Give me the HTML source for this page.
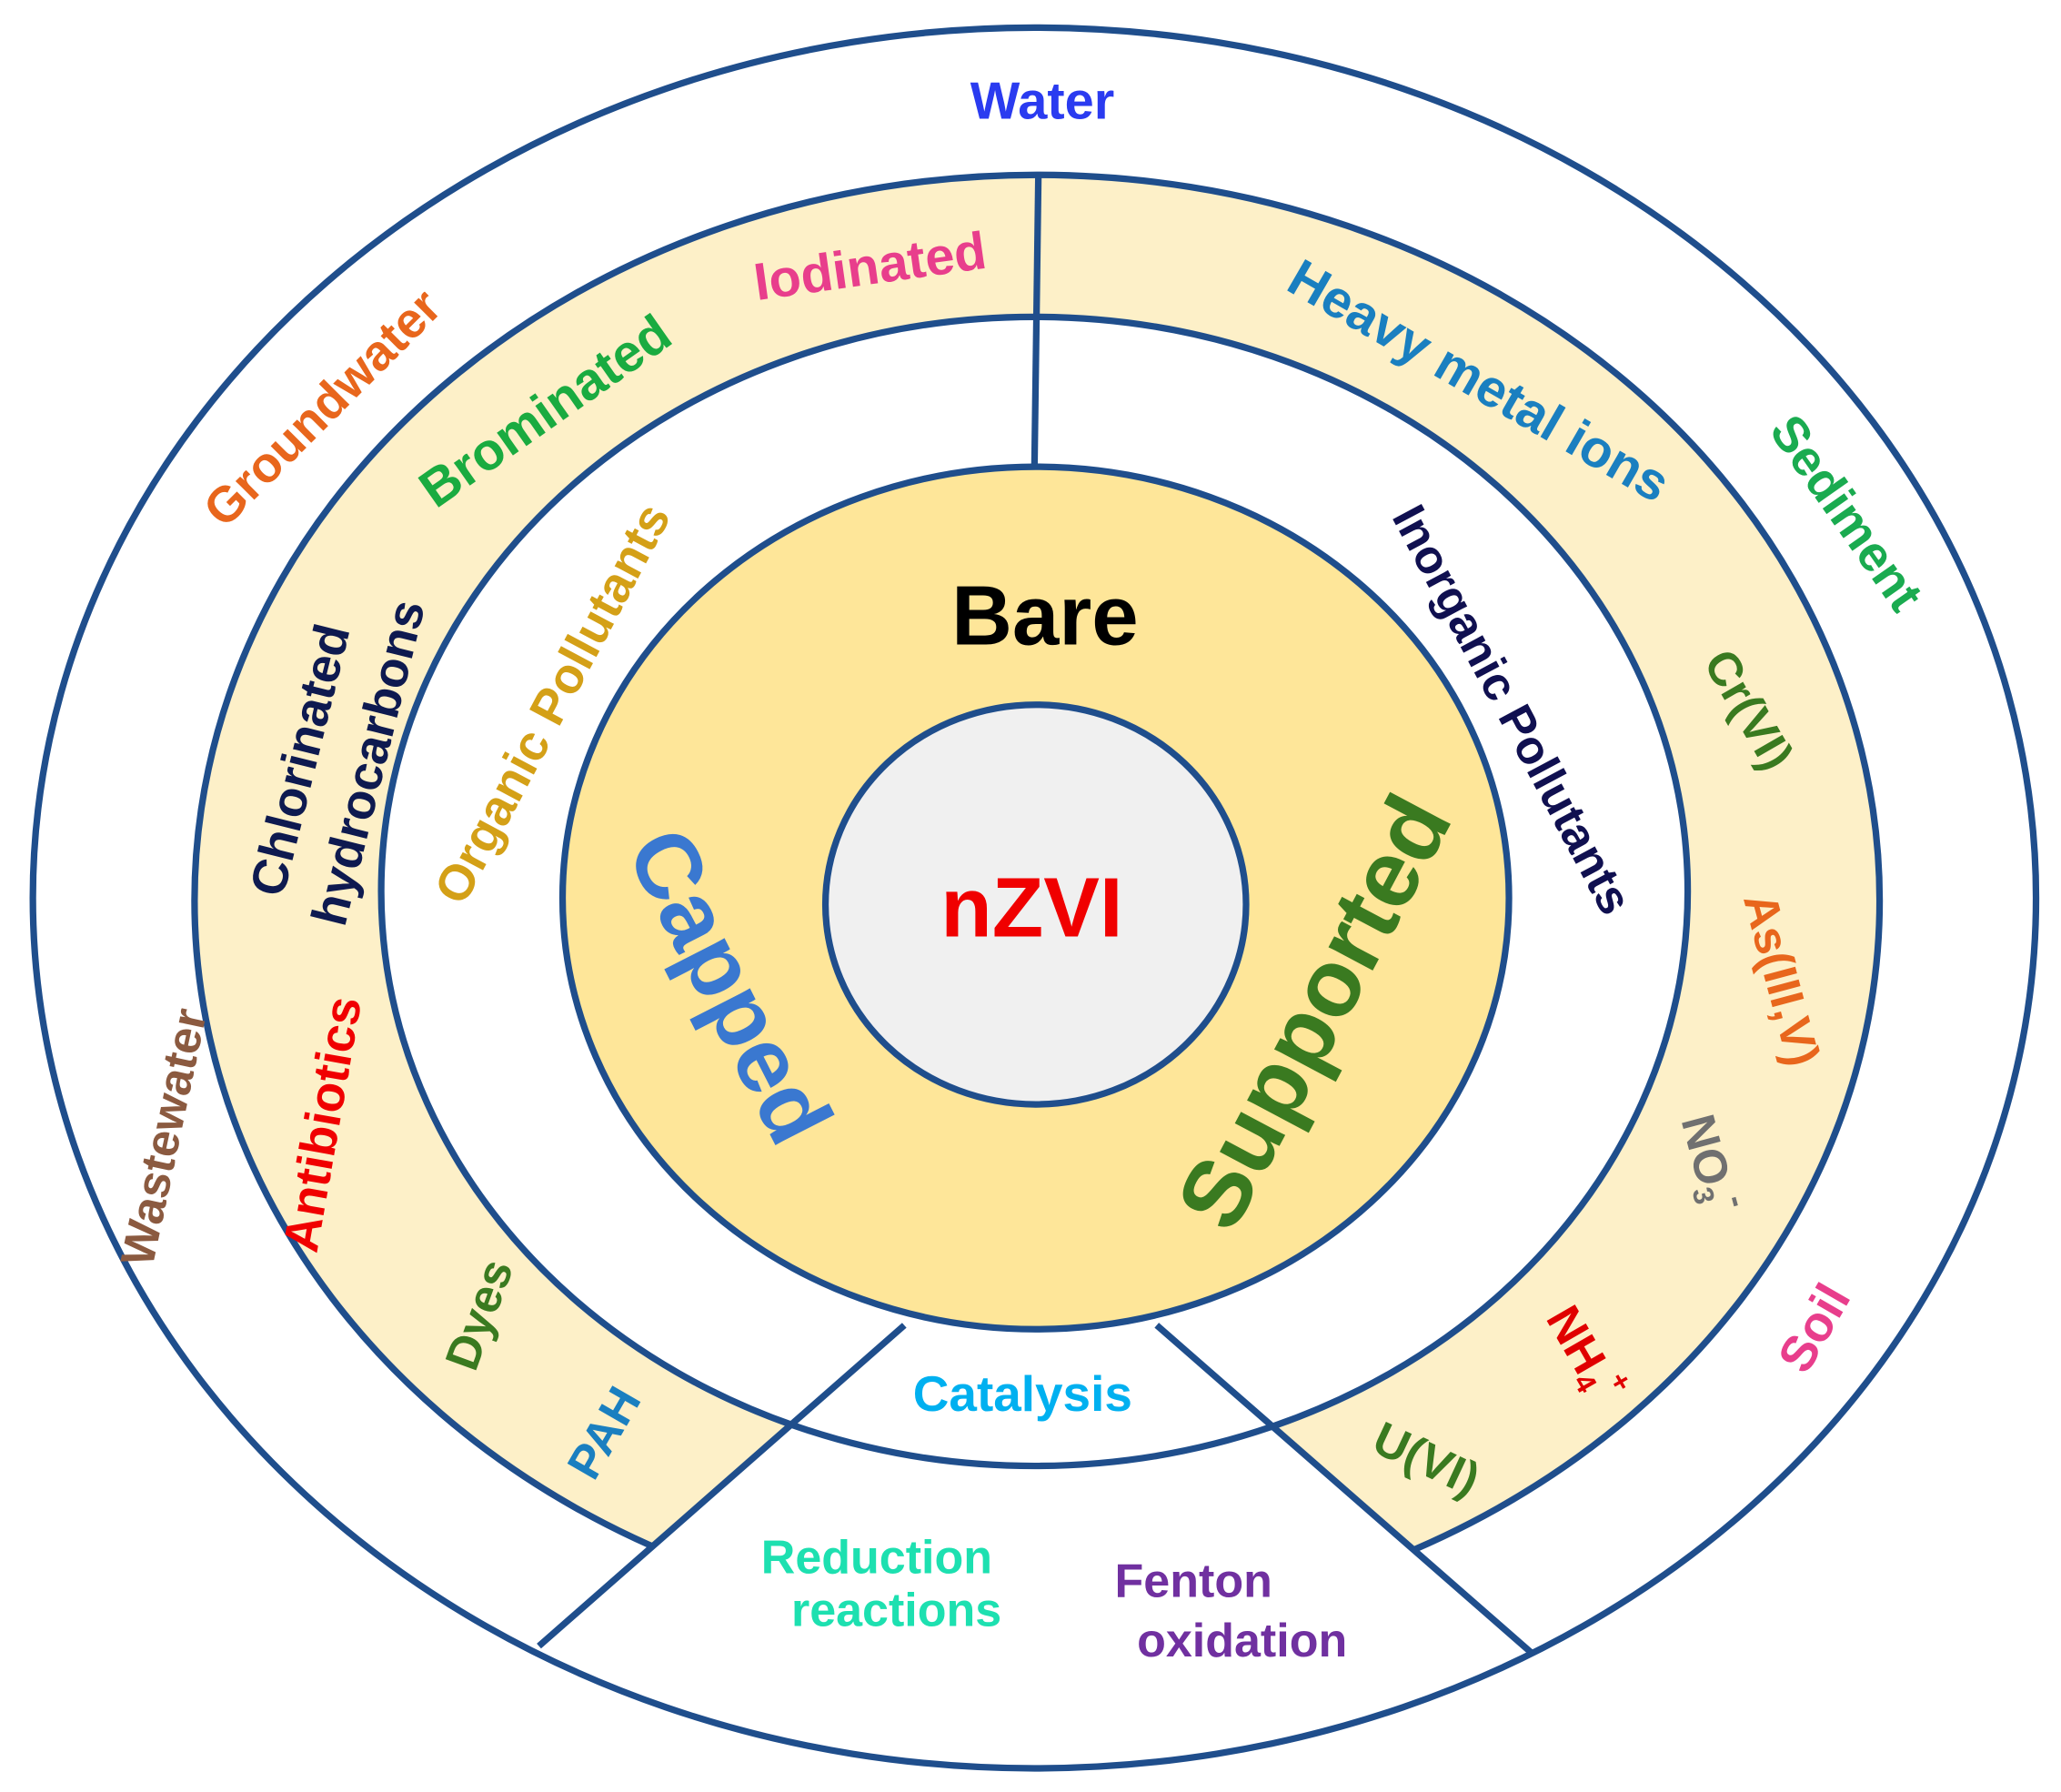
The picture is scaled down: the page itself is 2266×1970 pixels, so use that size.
<!DOCTYPE html>
<html><head><meta charset="utf-8"><style>
html,body{margin:0;padding:0;background:#fff;}
svg{display:block;}
text{font-family:"Liberation Sans",sans-serif;font-weight:bold;text-anchor:middle;dominant-baseline:central;}
</style></head><body>
<svg width="2266" height="1970" viewBox="0 0 1568 1363" preserveAspectRatio="none" xmlns="http://www.w3.org/2000/svg">
<rect width="1568" height="1363" fill="#fff"/>
<g stroke="#1f4e8c" stroke-width="5">
<ellipse cx="787" cy="683" rx="762" ry="662" fill="#fff"/>
<ellipse cx="789" cy="685" rx="641" ry="552" fill="#fdf0c8"/>
<polygon points="688,1008 410,1252 1165,1257 880,1008" fill="#fff" stroke="none"/>
<ellipse cx="787" cy="678" rx="497" ry="437" fill="#fff"/>
<ellipse cx="788" cy="683" rx="360" ry="328" fill="#fee699"/>
<ellipse cx="788" cy="688" rx="160" ry="152" fill="#f0f0f0"/>
<line x1="790" y1="133" x2="787" y2="356" fill="none"/>
<line x1="688" y1="1008" x2="410" y2="1252" fill="none"/>
<line x1="880" y1="1008" x2="1165" y2="1257" fill="none"/>
</g>
<text x="793" y="77" font-size="40" fill="#2a3bf0">Water</text>
<text transform="translate(245,310) rotate(-45)" font-size="38" fill="#e8661c">Groundwater</text>
<text transform="translate(662,203) rotate(-8)" font-size="40" fill="#e83e8c">Iodinated</text>
<text transform="translate(415,313) rotate(-35)" font-size="40" fill="#1aab40">Brominated</text>
<text transform="translate(1125,290) rotate(30)" font-size="40" fill="#1a7fc0">Heavy metal ions</text>
<text transform="translate(1405,390) rotate(55)" font-size="38" fill="#1aab50">Sediment</text>
<text x="795" y="468" font-size="64" fill="#000">Bare</text>
<text x="785" y="690" font-size="64" fill="#f00000">nZVI</text>
<text transform="translate(555,750) rotate(63)" font-size="70" fill="#3a78d0">Capped</text>
<text transform="translate(1000,770) rotate(-62)" font-size="72" fill="#3a7a20">Supported</text>
<text transform="translate(420,535) rotate(-62)" font-size="38" fill="#d4a017">Organic Pollutants</text>
<text transform="translate(1150,540) rotate(62)" font-size="36" fill="#101050">Inorganic Pollutants</text>
<text transform="translate(228,578) rotate(-76)" font-size="38" fill="#0e1a50">Chlorinated</text>
<text transform="translate(280,580) rotate(-76)" font-size="38" fill="#0e1a50">hydrocarbons</text>
<text transform="translate(245,855) rotate(-80)" font-size="38" fill="#f00000">Antibiotics</text>
<text transform="translate(125,865) rotate(-78)" font-size="36" fill="#8b5a40">Wastewater</text>
<text transform="translate(365,1000) rotate(-70)" font-size="36" fill="#3a7a20">Dyes</text>
<text transform="translate(460,1090) rotate(-60)" font-size="36" fill="#1a7fc0">PAH</text>
<text transform="translate(1330,540) rotate(60)" font-size="36" fill="#3a7a20">Cr(VI)</text>
<text transform="translate(1355,745) rotate(75)" font-size="36" fill="#e8661c">As(III,V)</text>
<text transform="translate(1300,885) rotate(75)" font-size="36" fill="#707070">NO<tspan font-size="22" dy="10">3</tspan><tspan font-size="26" dy="-24">-</tspan></text>
<text transform="translate(1205,1030) rotate(60)" font-size="36" fill="#e00000">NH<tspan font-size="22" dy="10">4</tspan><tspan font-size="22" dy="-24">+</tspan></text>
<text transform="translate(1085,1110) rotate(25)" font-size="36" fill="#3a7a20">U(VI)</text>
<text transform="translate(1380,1010) rotate(-60)" font-size="38" fill="#e83e8c">Soil</text>
<text x="778" y="1060" font-size="38" fill="#00b0f0">Catalysis</text>
<text x="667" y="1185" font-size="36" fill="#1de0b0">Reduction</text>
<text x="682" y="1225" font-size="36" fill="#1de0b0">reactions</text>
<text x="908" y="1203" font-size="36" fill="#7030a0">Fenton</text>
<text x="945" y="1248" font-size="36" fill="#7030a0">oxidation</text>
</svg>
</body></html>
